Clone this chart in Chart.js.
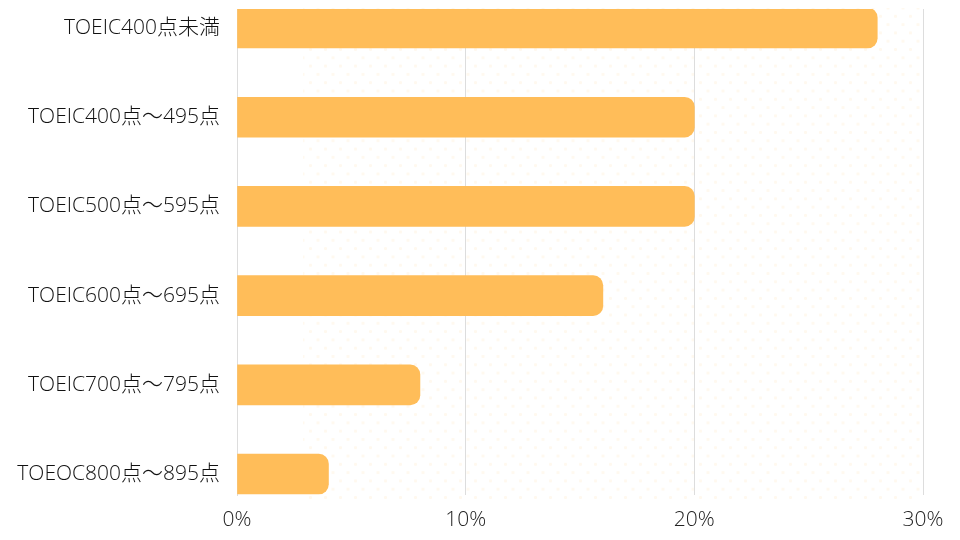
<!DOCTYPE html>
<html>
<head>
<meta charset="utf-8">
<script src="https://cdn.jsdelivr.net/npm/chart.js@4"></script>
<style>
  html, body { margin: 0; padding: 0; background: #fff; }
  #wrap { position: relative; width: 960px; height: 540px; }
  #dots {
    position: absolute; left: 303px; top: 8px; width: 620px; height: 496px;
    background-image:
      radial-gradient(circle, rgba(255,190,92,0.10) 1.3px, transparent 1.8px),
      radial-gradient(circle, rgba(255,190,92,0.10) 1.3px, transparent 1.8px);
    background-size: 15px 16.6px;
    background-position: 0 0, 7.5px 8.3px;
  }
  canvas { position: absolute; left: 0; top: 0; }
</style>
</head>
<body>
<div id="wrap">
  <div id="dots"></div>
  <canvas id="grafico" width="960" height="540"></canvas>
</div>
<script>
const categorias = [
  "TOEIC400点未満",
  "TOEIC400点～495点",
  "TOEIC500点～595点",
  "TOEIC600点～695点",
  "TOEIC700点～795点",
  "TOEOC800点～895点"
];
const porcentajes = [28, 20, 20, 16, 8, 4];
const ticksX = [0, 10, 20, 30];

const fuente = "'Open Sans', 'Noto Sans CJK JP', sans-serif";

// puntos con indice de categoria en el eje y (lineal)
const puntos = porcentajes.map((v, i) => ({ x: v, y: i }));

const ctx = document.getElementById('grafico').getContext('2d');

const grafico = new Chart(ctx, {
  type: 'bar',
  data: {
    datasets: [{
      data: puntos,
      backgroundColor: '#FFBD59',
      borderRadius: 10,
      borderSkipped: 'start',
      barThickness: 40
    }]
  },
  options: {
    indexAxis: 'y',
    responsive: false,
    animation: false,
    layout: { padding: { top: 9, right: 37, left: 0, bottom: 0 } },
    plugins: {
      legend: { display: false },
      tooltip: { enabled: false }
    },
    scales: {
      x: {
        type: 'linear',
        min: 0,
        max: 30,
        afterBuildTicks: (scale) => {
          scale.ticks = ticksX.map(v => ({ value: v }));
        },
        afterFit: (scale) => { scale.height = 45; },
        grid: { color: '#dddddd', lineWidth: 1, drawTicks: false },
        border: { display: false },
        ticks: {
          padding: 12,
          color: '#222222',
          font: { family: fuente, size: 21, weight: '300' },
          callback: (v) => v + '%'
        }
      },
      y: {
        type: 'linear',
        reverse: true,
        offset: false,
        min: -0.213,
        max: 5.235,
        afterBuildTicks: (scale) => {
          scale.ticks = categorias.map((c, i) => ({ value: i }));
        },
        afterFit: (scale) => {
          scale.width = 237;
          // las etiquetas no tocan los bordes, sin relleno extra
          scale.paddingTop = 0;
          scale.paddingBottom = 0;
        },
        grid: { display: false, drawTicks: false, offset: false },
        border: { display: true, color: '#dddddd', width: 1 },
        ticks: {
          padding: 17,
          color: '#111111',
          font: { family: fuente, size: 21, weight: '300' },
          callback: (v) => categorias[v]
        }
      }
    }
  }
});
</script>
</body>
</html>
